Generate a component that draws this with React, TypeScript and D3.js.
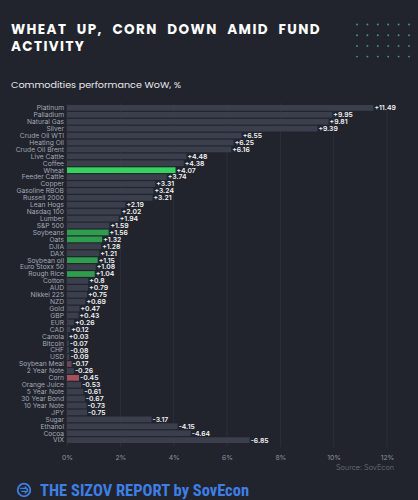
import React, { useEffect, useRef } from "react";
import * as d3 from "d3";

// Weekly change per instrument, % (sign kept for the label, bar length is the magnitude)
const categories = [
  "Platinum", "Palladium", "Natural Gas", "Silver", "Crude Oil WTI", "Heating Oil",
  "Crude Oil Brent", "Live Cattle", "Coffee", "Wheat", "Feeder Cattle", "Copper",
  "Gasoline RBOB", "Russell 2000", "Lean Hogs", "Nasdaq 100", "Lumber", "S&P 500",
  "Soybeans", "Oats", "DJIA", "DAX", "Soybean oil", "Euro Stoxx 50", "Rough Rice",
  "Cotton", "AUD", "Nikkei 225", "NZD", "Gold", "GBP", "EUR", "CAD", "Canola",
  "Bitcoin", "CHF", "USD", "Soybean Meal", "2 Year Note", "Corn", "Orange Juice",
  "5 Year Note", "30 Year Bond", "10 Year Note", "JPY", "Sugar", "Ethanol", "Cocoa", "VIX",
];

const changes = [
  11.49, 9.95, 9.81, 9.39, 6.55, 6.25,
  6.16, 4.48, 4.38, 4.07, 3.74, 3.31,
  3.24, 3.21, 2.19, 2.02, 1.94, 1.59,
  1.56, 1.32, 1.28, 1.21, 1.15, 1.08, 1.04,
  0.8, 0.79, 0.75, 0.69, 0.47, 0.43, 0.26, 0.12, 0.03,
  -0.07, -0.08, -0.09, -0.17, -0.26, -0.45, -0.53,
  -0.61, -0.67, -0.73, -0.75, -3.17, -4.15, -4.64, -6.85,
];

const xTicks = [0, 2, 4, 6, 8, 10, 12];

const highlightUp = ["Wheat"];
const grainsUp = ["Soybeans", "Oats", "Soybean oil", "Rough Rice"];
const grainsDown = ["Soybean Meal"];
const highlightDown = ["Corn"];

const titleLine1 = ["WHEAT", "UP,", "CORN", "DOWN", "AMID", "FUND"];
const titleLine2 = "ACTIVITY";

const W = 418;
const H = 500;

const barColor = (name: string) => {
  if (highlightUp.includes(name)) return "#35d260";
  if (grainsUp.includes(name)) return "#2f9d4e";
  if (highlightDown.includes(name)) return "#a3525d";
  if (grainsDown.includes(name)) return "#6b4853";
  return "#3b3e4b";
};

const fmt = (v: number) => (v >= 0 ? "+" : "-") + String(Math.abs(v));

const App: React.FC = () => {
  const svgRef = useRef<SVGSVGElement>(null);

  useEffect(() => {
    if (!svgRef.current) return;
    document.body.style.margin = "0";
    document.body.style.background = "#21242d";

    const svg = d3.select(svgRef.current);
    svg.selectAll("*").remove();

    svg.append("rect").attr("width", W).attr("height", H).attr("fill", "#21242d");

    // Title, first line justified word by word
    const titleFont = "Poppins, 'Open Sans', Inter, sans-serif";
    const line1 = svg
      .append("g")
      .attr("font-family", titleFont)
      .attr("font-weight", 700)
      .attr("font-size", 13.5)
      .attr("letter-spacing", 1.4)
      .attr("fill", "#ffffff");
    const words = line1
      .selectAll("text")
      .data(titleLine1)
      .join("text")
      .attr("y", 34)
      .text((d) => d);
    const widths: number[] = [];
    words.each(function () {
      widths.push((this as SVGTextElement).getComputedTextLength());
    });
    const left = 11;
    const right = 321;
    const total = d3.sum(widths);
    const gap = (right - left - total) / (titleLine1.length - 1);
    let cursor = left;
    words.attr("x", (_, i) => {
      const x = cursor;
      cursor += widths[i] + gap;
      return x;
    });
    line1.append("text").attr("x", left).attr("y", 51).text(titleLine2);

    // Decorative dot grid
    const dotCols = d3.range(6);
    const dotRows = d3.range(4);
    svg
      .append("g")
      .selectAll("circle")
      .data(dotRows.flatMap((r) => dotCols.map((c) => [c, r])))
      .join("circle")
      .attr("cx", (d) => 357 + d[0] * 10.4)
      .attr("cy", (d) => 24.5 + d[1] * 10.7)
      .attr("r", 0.95)
      .attr("fill", "#3aa07c");

    svg
      .append("text")
      .attr("x", 11)
      .attr("y", 88)
      .attr("font-family", titleFont)
      .attr("font-size", 9.6)
      .attr("fill", "#e6e6ea")
      .text("Commodities performance WoW, %");

    // Scales
    const x = d3.scaleLinear().domain([0, 12]).range([67, 387]);
    const y = d3.scaleBand<string>().domain(categories).range([105, 443]).paddingInner(0.17);

    const grid = svg.append("g");
    grid
      .selectAll("line")
      .data(xTicks)
      .join("line")
      .attr("x1", (d) => x(d))
      .attr("x2", (d) => x(d))
      .attr("y1", 103)
      .attr("y2", 447)
      .attr("stroke", "#2b2f3a")
      .attr("stroke-width", 1);

    const rows = categories.map((name, i) => ({ name, value: changes[i] }));

    svg
      .append("g")
      .selectAll("rect")
      .data(rows)
      .join("rect")
      .attr("x", x(0))
      .attr("y", (d) => y(d.name) as number)
      .attr("width", (d) => x(Math.abs(d.value)) - x(0))
      .attr("height", y.bandwidth())
      .attr("fill", (d) => barColor(d.name));

    const labelFont = "Inter, 'Noto Sans', sans-serif";

    svg
      .append("g")
      .attr("font-family", labelFont)
      .attr("font-size", 6.7)
      .attr("fill", "#a3a8b6")
      .attr("text-anchor", "end")
      .selectAll("text")
      .data(rows)
      .join("text")
      .attr("x", 64)
      .attr("y", (d) => (y(d.name) as number) + y.bandwidth() / 2)
      .attr("dy", "0.35em")
      .text((d) => d.name);

    svg
      .append("g")
      .attr("font-family", labelFont)
      .attr("font-size", 6.8)
      .attr("font-weight", 600)
      .attr("fill", "#f2f2f4")
      .selectAll("text")
      .data(rows)
      .join("text")
      .attr("x", (d) => x(Math.abs(d.value)) + 1)
      .attr("y", (d) => (y(d.name) as number) + y.bandwidth() / 2)
      .attr("dy", "0.35em")
      .text((d) => fmt(d.value));

    // Axis tick labels
    const axis = svg
      .append("g")
      .attr("transform", "translate(0,452)")
      .call(
        d3
          .axisBottom(x)
          .tickValues(xTicks)
          .tickSize(0)
          .tickFormat((d) => `${d}%`)
      );
    axis.select(".domain").remove();
    axis
      .selectAll("text")
      .attr("font-family", labelFont)
      .attr("font-size", 6.8)
      .attr("fill", "#8d92a0");

    svg
      .append("text")
      .attr("x", 394)
      .attr("y", 470)
      .attr("text-anchor", "end")
      .attr("font-family", labelFont)
      .attr("font-weight", 300)
      .attr("font-size", 7.3)
      .attr("fill", "#6f7480")
      .text("Source: SovEcon");

    // Footer brand
    const brand = "#3e7fe6";
    const logo = svg.append("g").attr("transform", "translate(24,490)");
    logo.append("circle").attr("r", 6.3).attr("fill", "none").attr("stroke", brand).attr("stroke-width", 1.8);
    logo
      .append("path")
      .attr("d", "M-3.5,-1.6 L2.8,-1.6 M-2.2,1.4 L3.6,1.4 M1.2,-3 L3.6,0 L1.2,3")
      .attr("fill", "none")
      .attr("stroke", brand)
      .attr("stroke-width", 1.4)
      .attr("stroke-linecap", "round");

    svg
      .append("text")
      .attr("x", 40)
      .attr("y", 496)
      .attr("font-family", "'Roboto Condensed', 'Liberation Sans Narrow', Roboto, sans-serif")
      .attr("font-weight", 700)
      .attr("font-size", 16.5)
      .attr("fill", brand)
      .text("THE SIZOV REPORT by SovEcon");
  }, []);

  return (
    <div style={{ position: "absolute", left: 0, top: 0, width: W, height: H }}>
      <svg ref={svgRef} width={W} height={H} style={{ display: "block" }} />
    </div>
  );
};

export default App;
